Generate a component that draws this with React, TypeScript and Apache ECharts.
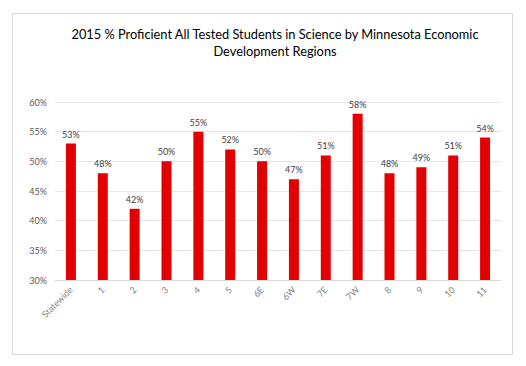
import React, { useEffect, useRef } from "react";
import * as echarts from "echarts";

const categories = ["Statewide", "1", "2", "3", "4", "5", "6E", "6W", "7E", "7W", "8", "9", "10", "11"];
const values = [53, 48, 42, 50, 55, 52, 50, 47, 51, 58, 48, 49, 51, 54];
const titleText = "2015 % Proficient All Tested Students in Science by Minnesota Economic\nDevelopment Regions";

export default function App() {
  const ref = useRef<HTMLDivElement>(null);
  useEffect(() => {
    if (!ref.current) return;
    const chart = echarts.init(ref.current, null, { renderer: "svg" });
    chart.setOption({
      animation: false,
      backgroundColor: "#ffffff",
      graphic: [
        {
          type: "rect",
          shape: { x: 12.5, y: 13.5, width: 500, height: 341 },
          style: { fill: "#ffffff", stroke: "#d9d9d9", lineWidth: 1 },
          z: -10,
        },
      ],
      title: {
        text: titleText,
        left: 270,
        textAlign: "center",
        top: 20,
        textStyle: {
          fontFamily: "Lato",
          fontSize: 12.8,
          fontWeight: "normal",
          color: "#000000",
          lineHeight: 17,
        },
      },
      grid: { left: 55, right: 25, top: 102, bottom: 86, containLabel: false },
      xAxis: {
        type: "category",
        data: categories,
        axisLine: { lineStyle: { color: "#d9d9d9", width: 1 } },
        axisTick: { show: false },
        axisLabel: {
          rotate: 45,
          interval: 0,
          color: "#7f7f7f",
          fontFamily: "Lato",
          fontSize: 9,
          margin: 8,
        },
      },
      yAxis: {
        type: "value",
        min: 30,
        max: 60,
        interval: 5,
        axisLine: { show: false },
        axisTick: { show: false },
        splitLine: { lineStyle: { color: "#e6e6e6", width: 1 } },
        axisLabel: {
          formatter: "{value}%",
          color: "#595959",
          fontFamily: "Lato",
          fontSize: 9,
          margin: 8,
        },
      },
      series: [
        {
          type: "bar",
          data: values,
          barWidth: 10,
          itemStyle: { color: "#e30000" },
          label: {
            show: true,
            position: "top",
            formatter: "{c}%",
            color: "#404040",
            fontFamily: "Lato",
            fontSize: 9,
            distance: 5,
          },
        },
      ],
    });
    return () => chart.dispose();
  }, []);
  return (
    <div
      ref={ref}
      style={{ position: "fixed", left: 0, top: 0, width: 526, height: 366 }}
    />
  );
}
